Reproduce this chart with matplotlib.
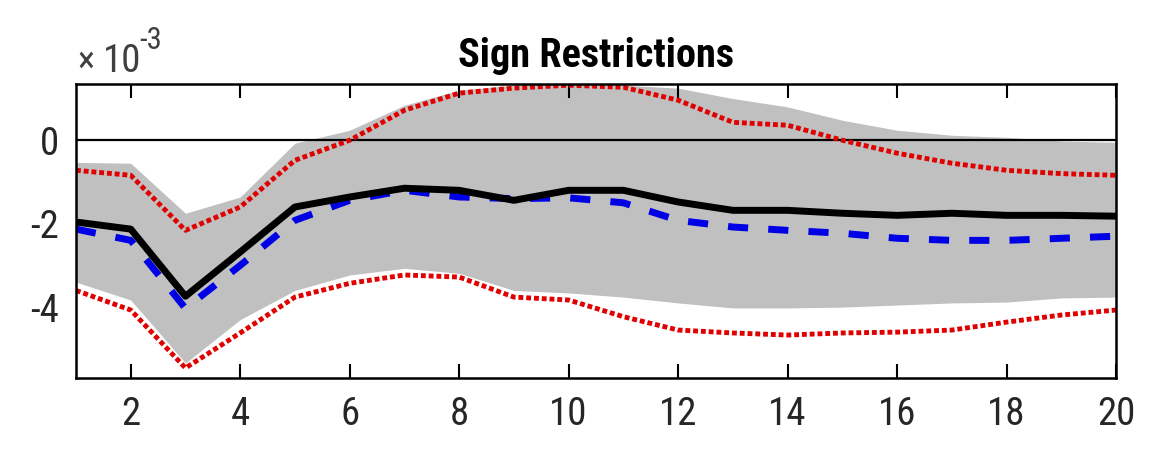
import matplotlib
matplotlib.use("Agg")
import matplotlib.pyplot as plt
import numpy as np

# horizons and impulse responses (units of 1e-3)
horizon = np.arange(1, 21)
median_irf = [-1.96, -2.13, -3.74, -2.68, -1.60, -1.36, -1.15, -1.20, -1.44, -1.20,
              -1.20, -1.48, -1.68, -1.68, -1.75, -1.80, -1.75, -1.80, -1.80, -1.82]
mean_irf = [-2.13, -2.40, -4.03, -3.00, -1.92, -1.44, -1.20, -1.36, -1.40, -1.38,
            -1.50, -1.92, -2.08, -2.16, -2.23, -2.35, -2.40, -2.40, -2.35, -2.30]
upper_ci = [-0.72, -0.84, -2.16, -1.60, -0.48, 0.00, 0.72, 1.13, 1.25, 1.32,
            1.27, 0.96, 0.43, 0.36, 0.00, -0.31, -0.55, -0.72, -0.80, -0.84]
lower_ci = [-3.60, -4.07, -5.46, -4.62, -3.76, -3.43, -3.23, -3.28, -3.76, -3.83,
            -4.23, -4.55, -4.62, -4.67, -4.62, -4.60, -4.55, -4.36, -4.19, -4.07]
band_hi = [-0.53, -0.55, -1.75, -1.36, -0.07, 0.24, 0.84, 1.20, 1.32, 1.36,
           1.32, 1.25, 1.00, 0.80, 0.48, 0.24, 0.12, 0.07, -0.02, -0.05]
band_lo = [-3.40, -3.83, -5.34, -4.30, -3.60, -3.23, -3.07, -3.19, -3.60, -3.66,
           -3.76, -3.90, -4.02, -4.02, -4.00, -3.95, -3.90, -3.88, -3.78, -3.76]
scale = 1e-3

plt.rcParams["font.family"] = ["Roboto Condensed", "DejaVu Sans"]

fig = plt.figure(figsize=(11.74, 4.69), dpi=100)
ax = fig.add_axes([0.0647, 0.194, 0.886, 0.627])

ax.fill_between(horizon, np.array(band_lo) * scale, np.array(band_hi) * scale,
                color="#c0c0c0", lw=0, zorder=1)
ax.axhline(0, color="black", lw=1.6, zorder=2)
ax.plot(horizon, np.array(upper_ci) * scale, color="#e00000", lw=3.5,
        dashes=(1, 0.6), zorder=3)
ax.plot(horizon, np.array(lower_ci) * scale, color="#e00000", lw=3.5,
        dashes=(1, 0.6), zorder=3)
ax.plot(horizon, np.array(mean_irf) * scale, color="#0000e6", lw=5,
        dashes=(2.9, 2.9), zorder=4)
ax.plot(horizon, np.array(median_irf) * scale, color="black", lw=5,
        zorder=5)

ax.set_xlim(1, 20)
ax.set_ylim(-5.7e-3, 1.35e-3)
ax.set_xticks(np.arange(2, 21, 2))
ax.set_yticks([-4e-3, -2e-3, 0])
ax.set_yticklabels(["-4", "-2", "0"])
ax.tick_params(axis="x", direction="in", length=10, width=1.5, top=True,
               labelsize=28, pad=13, labelcolor="#262626")
ax.tick_params(axis="y", direction="in", length=0, labelsize=28, pad=12,
               labelcolor="#262626")
for sp in ax.spines.values():
    sp.set_linewidth(1.8)
    sp.set_zorder(6)

fig.text(0.066, 0.846, "\u00d7", fontsize=26, color="#404040", ha="left", va="baseline")
fig.text(0.088, 0.846, "10", fontsize=28, color="#404040", ha="left", va="baseline")
fig.text(0.119, 0.895, "-3", fontsize=22, color="#404040", ha="left", va="baseline")
ax.set_title("Sign Restrictions", fontsize=29, fontweight="bold", pad=12)

fig.savefig("out.png", dpi=100)
